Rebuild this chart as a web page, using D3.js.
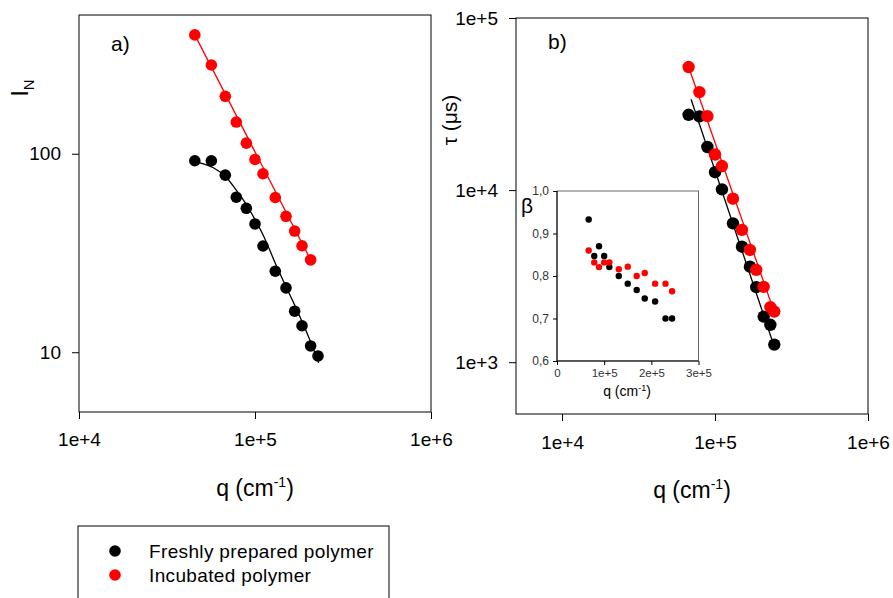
<!DOCTYPE html>
<html>
<head>
<meta charset="utf-8">
<script src="https://cdnjs.cloudflare.com/ajax/libs/d3/7.8.5/d3.min.js"></script>
<style>
  html, body { margin: 0; padding: 0; background: #fff; }
  svg { display: block; }
  text { font-family: "Liberation Sans", Arial, sans-serif; }
</style>
</head>
<body>
<svg id="chart" width="893" height="598"></svg>
<script>
// ---------------- data ----------------
// Panel a): normalised intensity I_N vs q
const qA = [45500, 56500, 67800, 78300, 89300, 100000, 111000, 130400, 150000, 168000, 185000, 207000, 228000];
const inFresh = [92.2, 92.2, 78.0, 60.4, 53.1, 44.3, 34.3, 25.6, 21.1, 16.1, 13.6, 10.76, 9.58];
const inIncub = [397, 280, 194.7, 144.4, 113.1, 93.6, 79.3, 60.2, 48.4, 40.8, 34.4, 29.2];
// fit curves panel a)
const fitAFreshQ = [48700, 58000, 67800, 78300, 89300, 100000, 111000, 130400, 150000, 168000, 185000, 207000, 230000];
const fitAFreshI = [90.0, 85.0, 77.0, 65.5, 55.5, 46.6, 39.1, 28.1, 21.4, 17.3, 14.3, 11.3, 8.86];
const fitAIncubQ = [45500, 207000];
const fitAIncubI = [397, 29.2];

// Panel b): relaxation time tau vs q
const qB = [67200, 79000, 89100, 100000, 111000, 131000, 150000, 169000, 186000, 208000, 230000, 244000];
const tauFresh = [27400, 26800, 17800, 12700, 10100, 6410, 4690, 3590, 2730, 1840, 1650, 1265];
const tauIncub = [51900, 37100, 26900, 16100, 13800, 8910, 5870, 4490, 3440, 2740, 2090, 1970];
const fitBFreshQ = [69700, 244000];
const fitBFreshT = [33700, 1230];
const fitBIncubQ = [67200, 244000];
const fitBIncubT = [51900, 1950];

// Inset: stretching exponent beta vs q
const betaFresh = [0.933, 0.847, 0.870, 0.847, 0.821, 0.800, 0.782, 0.767, 0.747, 0.740, 0.700, 0.700];
const betaIncub = [0.860, 0.832, 0.821, 0.832, 0.832, 0.816, 0.822, 0.800, 0.807, 0.782, 0.782, 0.764];

// ticks
const xTicksMain = [1e4, 1e5, 1e6];
const xTickLabelsMain = ["1e+4", "1e+5", "1e+6"];
const yTicksA = [10, 100];
const yTickLabelsA = ["10", "100"];
const yTicksB = [1e3, 1e4, 1e5];
const yTickLabelsB = ["1e+3", "1e+4", "1e+5"];
const xTicksInset = [0, 1e5, 2e5, 3e5];
const xTickLabelsInset = ["0", "1e+5", "2e+5", "3e+5"];
const yTicksInset = [0.6, 0.7, 0.8, 0.9, 1.0];
const yTickLabelsInset = ["0,6", "0,7", "0,8", "0,9", "1,0"];

const seriesNames = ["Freshly prepared polymer", "Incubated polymer"];
const colors = ["#000000", "#ff0000"];

// ---------------- drawing ----------------
const svg = d3.select("#chart");
const FONT = '"Liberation Sans", Arial, sans-serif';

function styleAxis(g, fontSize, color) {
  g.select(".domain").remove();
  g.selectAll(".tick line").attr("stroke", "#000").attr("stroke-width", 1);
  g.selectAll(".tick text").attr("font-size", fontSize).attr("font-family", FONT).attr("fill", color || "#000");
}

function zip(xs, ys) { return xs.map((x, i) => [x, ys[i]]); }

// ---- Panel a ----
const xA = d3.scaleLog().domain([1e4, 1e6]).range([79, 431]);
const yA = d3.scaleLog().domain([5, 500]).range([412, 15]);

const gA = svg.append("g");
gA.append("g").attr("transform", "translate(0,412)")
  .call(d3.axisBottom(xA).tickValues(xTicksMain).tickFormat((d, i) => xTickLabelsMain[i]).tickSize(7).tickSizeOuter(0).tickPadding(14))
  .call(g => styleAxis(g, 19));
gA.append("g").attr("transform", "translate(79,0)")
  .call(d3.axisLeft(yA).tickValues(yTicksA).tickFormat((d, i) => yTickLabelsA[i]).tickSize(7).tickSizeOuter(0).tickPadding(11))
  .call(g => styleAxis(g, 19));
gA.append("rect").attr("x", 79).attr("y", 15).attr("width", 352).attr("height", 397)
  .attr("fill", "none").attr("stroke", "#000").attr("stroke-width", 1);

const lineA = d3.line().x(d => xA(d[0])).y(d => yA(d[1])).curve(d3.curveMonotoneX);
gA.append("path").datum(zip(fitAFreshQ, fitAFreshI)).attr("d", lineA)
  .attr("fill", "none").attr("stroke", colors[0]).attr("stroke-width", 1.3);
gA.selectAll("circle.fa").data(zip(qA, inFresh)).join("circle").attr("class", "fa")
  .attr("cx", d => xA(d[0])).attr("cy", d => yA(d[1])).attr("r", 5.8).attr("fill", colors[0]);
gA.append("path").datum(zip(fitAIncubQ, fitAIncubI)).attr("d", lineA)
  .attr("fill", "none").attr("stroke", colors[1]).attr("stroke-width", 1.3);
gA.selectAll("circle.ia").data(zip(qA.slice(0, inIncub.length), inIncub)).join("circle").attr("class", "ia")
  .attr("cx", d => xA(d[0])).attr("cy", d => yA(d[1])).attr("r", 5.8).attr("fill", colors[1]);

gA.append("text").attr("x", 111).attr("y", 51).attr("font-size", 21).text("a)");

// y title I_N
const tIN = gA.append("text").attr("transform", "translate(28,88) rotate(-90)")
  .attr("text-anchor", "middle").attr("font-size", 23);
tIN.append("tspan").text("I");
tIN.append("tspan").attr("font-size", 15).attr("dy", 6).text("N");

// x title
function qTitle(g, cx, y, fs, sfs, dy) {
  const t = g.append("text").attr("x", cx).attr("y", y).attr("text-anchor", "middle").attr("font-size", fs);
  t.append("tspan").text("q (cm");
  t.append("tspan").attr("font-size", sfs).attr("dy", -dy).text("-1");
  t.append("tspan").attr("dy", dy).text(")");
}
qTitle(gA, 255, 496, 23, 14, 9);

// ---- Panel b ----
const xB = d3.scaleLog().domain([5e3, 1e6]).range([516, 868]);
const yB = d3.scaleLog().domain([500, 1e5]).range([414, 18]);

const gB = svg.append("g");
gB.append("g").attr("transform", "translate(0,414)")
  .call(d3.axisBottom(xB).tickValues(xTicksMain).tickFormat((d, i) => xTickLabelsMain[i]).tickSize(7).tickSizeOuter(0).tickPadding(15))
  .call(g => styleAxis(g, 19));
gB.append("g").attr("transform", "translate(516,0)")
  .call(d3.axisLeft(yB).tickValues(yTicksB).tickFormat((d, i) => yTickLabelsB[i]).tickSize(7).tickSizeOuter(0).tickPadding(11))
  .call(g => styleAxis(g, 19));
gB.append("rect").attr("x", 516).attr("y", 18).attr("width", 352).attr("height", 396)
  .attr("fill", "none").attr("stroke", "#000").attr("stroke-width", 1);

const lineB = d3.line().x(d => xB(d[0])).y(d => yB(d[1]));
gB.append("path").datum(zip(fitBFreshQ, fitBFreshT)).attr("d", lineB)
  .attr("fill", "none").attr("stroke", colors[0]).attr("stroke-width", 1.3);
gB.selectAll("circle.fb").data(zip(qB, tauFresh)).join("circle").attr("class", "fb")
  .attr("cx", d => xB(d[0])).attr("cy", d => yB(d[1])).attr("r", 6.2).attr("fill", colors[0]);
gB.append("path").datum(zip(fitBIncubQ, fitBIncubT)).attr("d", lineB)
  .attr("fill", "none").attr("stroke", colors[1]).attr("stroke-width", 1.3);
gB.selectAll("circle.ib").data(zip(qB, tauIncub)).join("circle").attr("class", "ib")
  .attr("cx", d => xB(d[0])).attr("cy", d => yB(d[1])).attr("r", 6.2).attr("fill", colors[1]);

gB.append("text").attr("x", 548).attr("y", 49).attr("font-size", 21).text("b)");
gB.append("text").attr("transform", "translate(457,120) rotate(-90)")
  .attr("text-anchor", "middle").attr("font-size", 21).text("τ (μs)");
qTitle(gB, 692, 498, 23, 14, 9);

// ---- Inset ----
const xI = d3.scaleLinear().domain([0, 3e5]).range([557, 698.5]);
const yI = d3.scaleLinear().domain([0.6, 1.0]).range([361, 191]);
const gI = svg.append("g");
gI.append("rect").attr("x", 557).attr("y", 191).attr("width", 141.5).attr("height", 170)
  .attr("fill", "#fff").attr("stroke", "#666").attr("stroke-width", 1);
gI.append("g").attr("transform", "translate(0,361)")
  .call(d3.axisBottom(xI).tickValues(xTicksInset).tickFormat((d, i) => xTickLabelsInset[i]).tickSize(4).tickSizeOuter(0).tickPadding(4))
  .call(g => styleAxis(g, 11.5, "#333"));
gI.append("g").attr("transform", "translate(557,0)")
  .call(d3.axisLeft(yI).tickValues(yTicksInset).tickFormat((d, i) => yTickLabelsInset[i]).tickSize(4).tickSizeOuter(0).tickPadding(4))
  .call(g => styleAxis(g, 12, "#333"));
gI.append("line").attr("x1", 557).attr("x2", 557).attr("y1", 191).attr("y2", 361).attr("stroke", "#000");
gI.append("line").attr("x1", 557).attr("x2", 698.5).attr("y1", 361).attr("y2", 361).attr("stroke", "#000");

gI.selectAll("circle.fi").data(zip(qB, betaFresh)).join("circle").attr("class", "fi")
  .attr("cx", d => xI(d[0])).attr("cy", d => yI(d[1])).attr("r", 3.2).attr("fill", colors[0]);
gI.selectAll("circle.ii").data(zip(qB, betaIncub)).join("circle").attr("class", "ii")
  .attr("cx", d => xI(d[0])).attr("cy", d => yI(d[1])).attr("r", 3.2).attr("fill", colors[1]);

gI.append("text").attr("x", 521).attr("y", 213).attr("font-size", 21).text("β");
qTitle(gI, 627, 396, 14, 9, 5);

// ---- Legend ----
const gL = svg.append("g");
gL.append("rect").attr("x", 78).attr("y", 526).attr("width", 311).attr("height", 90)
  .attr("fill", "#fff").attr("stroke", "#000").attr("stroke-width", 1);
seriesNames.forEach((name, i) => {
  gL.append("circle").attr("cx", 115).attr("cy", 551 + i * 24).attr("r", 5.8).attr("fill", colors[i]);
  gL.append("text").attr("x", 149).attr("y", 557.5 + i * 24.5).attr("font-size", 19)
    .attr("letter-spacing", 0.35).text(name);
});
</script>
</body>
</html>
